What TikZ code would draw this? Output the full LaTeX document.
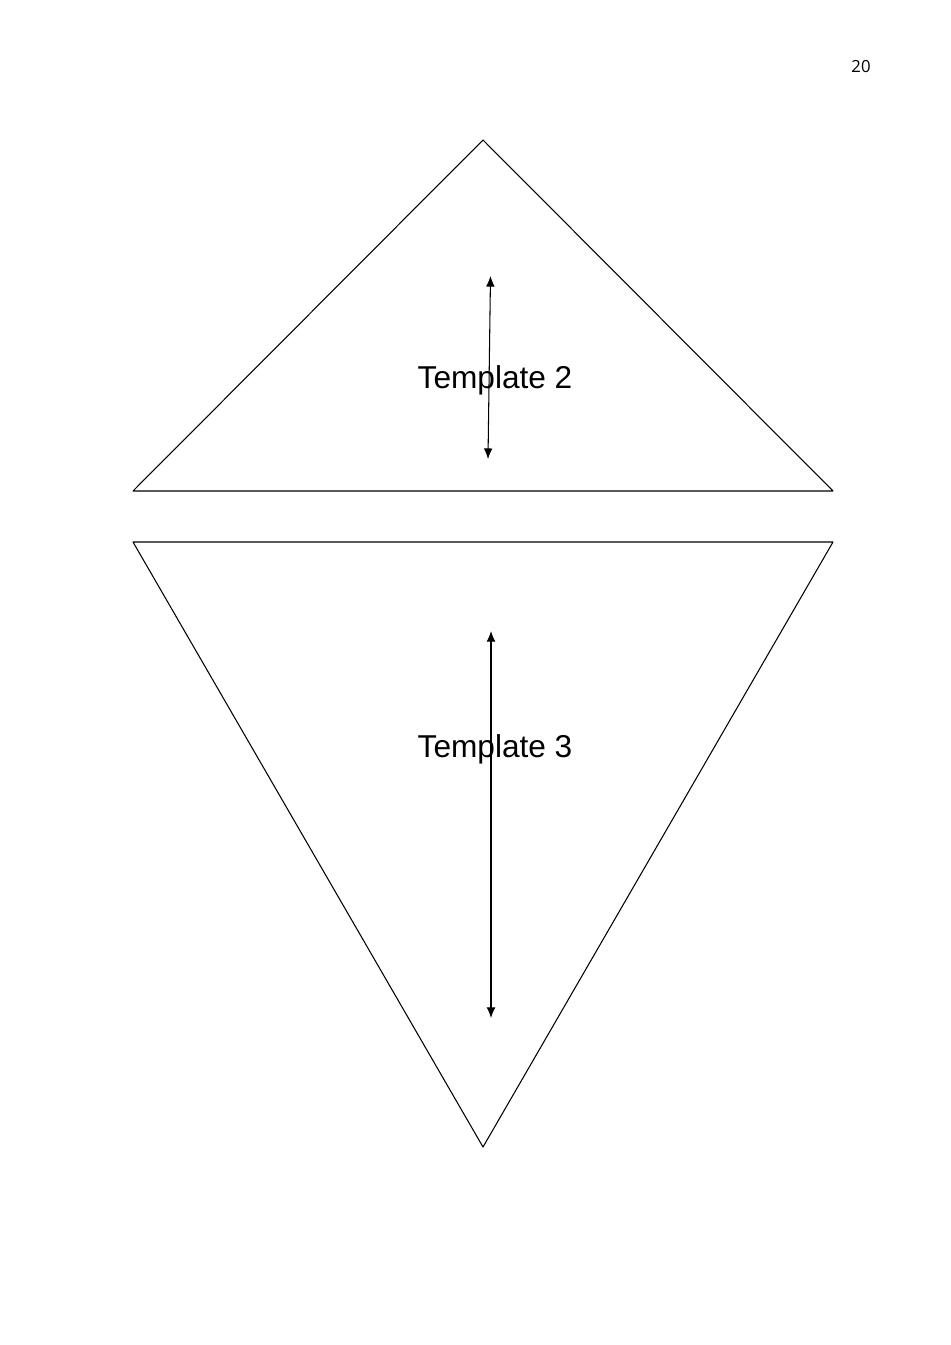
\documentclass[tikz,border=0pt]{standalone}
\usepackage{fontspec}
\setmainfont{Liberation Sans}
\newfontfamily\pagefont{Open Sans}
\usetikzlibrary{arrows.meta}
\begin{document}
\begin{tikzpicture}[x=0.02cm,y=-0.02cm,line width=0.6pt, line join=round, >={Latex[length=6pt,width=5pt]}]
	\useasboundingbox (0,0) rectangle (950,1345);
	\node[font=\pagefont\fontsize{9.5}{11}\selectfont] (page) at (861,67) {20};
	% template 2
	\coordinate (A2) at (483,140);
	\coordinate (B2) at (133,491);
	\coordinate (C2) at (833,491);
	\draw (A2)--(B2)--(C2)--cycle;
	\coordinate (u2) at (490.5,276);
	\coordinate (d2) at (488,459);
	\draw[<->] (u2)--(d2);
	\node[font=\fontsize{18}{21}\selectfont] (t2) at (495,380) {Template 2};
	% template 3
	\coordinate (A3) at (133,542);
	\coordinate (B3) at (833,542);
	\coordinate (C3) at (483,1147);
	\draw (A3)--(B3)--(C3)--cycle;
	\coordinate (u3) at (491,631);
	\coordinate (d3) at (491,1018);
	\draw[<->] (u3)--(d3);
	\node[font=\fontsize{18}{21}\selectfont] (t3) at (495,749) {Template 3};
\end{tikzpicture}
\end{document}
